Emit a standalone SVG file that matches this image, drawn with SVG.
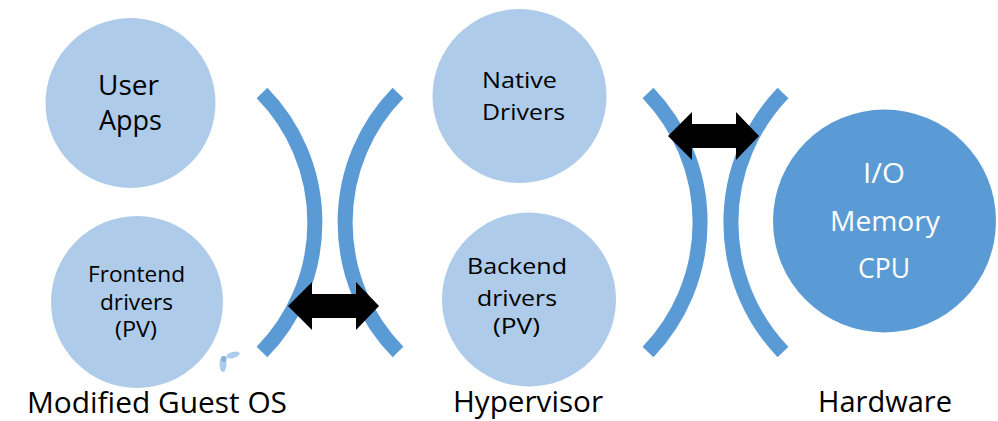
<svg xmlns="http://www.w3.org/2000/svg" width="998" height="421" viewBox="0 0 998 421">
  <style>
    .soft { fill: #AECBEA; }
    .hard { fill: #5B9BD5; }
    .bracket { fill: none; stroke: #5B9BD5; stroke-width: 15; stroke-linecap: butt; }
    .arrow { fill: #000000; }
    text { font-family: "Open Sans", "Liberation Sans", sans-serif; text-anchor: start; }
    .dark { fill: #000000; }
    .light { fill: #ffffff; }
  </style>
  <rect width="998" height="421" fill="#ffffff"/>

  <!-- Guest OS column -->
  <g id="user-apps">
    <circle class="soft" cx="130.5" cy="103" r="85"/>
    <text class="dark" font-size="27" x="98" y="95" textLength="61" lengthAdjust="spacingAndGlyphs">User</text>
    <text class="dark" font-size="27" x="99" y="130" textLength="63" lengthAdjust="spacingAndGlyphs">Apps</text>
  </g>
  <g id="frontend-drivers">
    <circle class="soft" cx="137" cy="302" r="86"/>
    <text class="dark" font-size="21" x="88" y="282" textLength="97" lengthAdjust="spacingAndGlyphs">Frontend</text>
    <text class="dark" font-size="21" x="100" y="310" textLength="73" lengthAdjust="spacingAndGlyphs">drivers</text>
    <text class="dark" font-size="21" x="115" y="337" textLength="42" lengthAdjust="spacingAndGlyphs">(PV)</text>
  </g>
  <g id="marker-glyph">
    <ellipse cx="233" cy="355" rx="7" ry="3" fill="#AECBEA" transform="rotate(-15 233 355)"/>
    <ellipse cx="223" cy="364" rx="3.5" ry="8" fill="#AECBEA"/>
    <ellipse cx="224" cy="359" rx="2.5" ry="3" fill="#7FB0DE"/>
  </g>

  <!-- Hypervisor column -->
  <g id="native-drivers">
    <circle class="soft" cx="519.5" cy="96" r="87"/>
    <text class="dark" font-size="22" x="482" y="88" textLength="75" lengthAdjust="spacingAndGlyphs">Native</text>
    <text class="dark" font-size="22" x="482" y="120" textLength="83" lengthAdjust="spacingAndGlyphs">Drivers</text>
  </g>
  <g id="backend-drivers">
    <circle class="soft" cx="529" cy="299.5" r="87"/>
    <text class="dark" font-size="21" x="467" y="274" textLength="100" lengthAdjust="spacingAndGlyphs">Backend</text>
    <text class="dark" font-size="21" x="477" y="306" textLength="80" lengthAdjust="spacingAndGlyphs">drivers</text>
    <text class="dark" font-size="21" x="493" y="334" textLength="47" lengthAdjust="spacingAndGlyphs">(PV)</text>
  </g>

  <!-- Hardware -->
  <g id="hardware">
    <circle class="hard" cx="884.5" cy="221" r="111.5"/>
    <text class="light" font-size="27" x="863" y="183" textLength="42" lengthAdjust="spacingAndGlyphs">I/O</text>
    <text class="light" font-size="27" x="830" y="231" textLength="110" lengthAdjust="spacingAndGlyphs">Memory</text>
    <text class="light" font-size="27" x="858" y="278" textLength="52" lengthAdjust="spacingAndGlyphs">CPU</text>
  </g>

  <!-- Layer labels -->
  <g id="labels">
    <text class="dark" font-size="29" x="27" y="413" textLength="260" lengthAdjust="spacingAndGlyphs">Modified Guest OS</text>
    <text class="dark" font-size="29" x="453" y="412" textLength="150" lengthAdjust="spacingAndGlyphs">Hypervisor</text>
    <text class="dark" font-size="29" x="818" y="412" textLength="134" lengthAdjust="spacingAndGlyphs">Hardware</text>
  </g>

  <!-- Interface brackets and data-path arrows -->
  <g id="connectors">
    <path class="bracket" d="M262,93 A185,185 0 0 1 262,352"/>
    <path class="bracket" d="M398,93 A185,185 0 0 0 398,352"/>
    <path class="bracket" d="M648,93 A187,187 0 0 1 648,352"/>
    <path class="bracket" d="M783,93 A187,187 0 0 0 783,352"/>
    <polygon class="arrow" points="288,306 312,282 312,294 356,294 356,282 379,306 356,330 356,318 312,318 312,330"/>
    <polygon class="arrow" points="668,136 692,112 692,124 736,124 736,112 759,136 736,160 736,148 692,148 692,160"/>
  </g>
</svg>
